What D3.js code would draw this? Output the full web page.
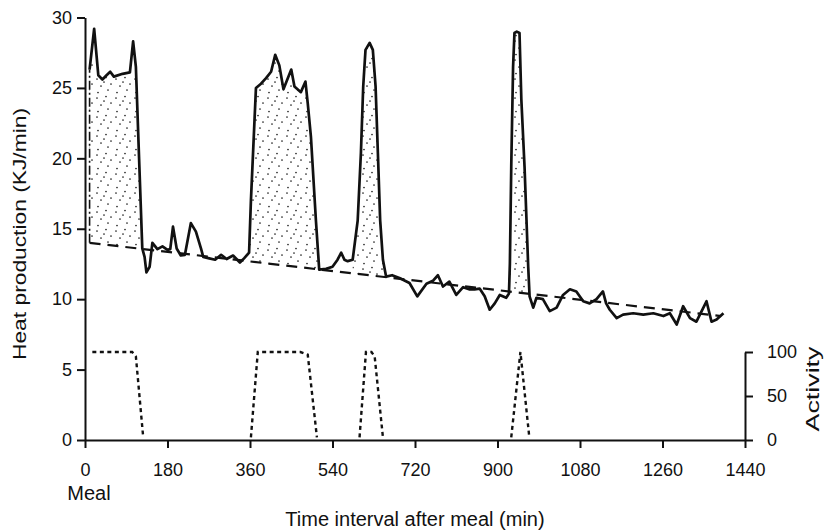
<!DOCTYPE html>
<html>
<head>
<meta charset="utf-8">
<script src="https://cdn.jsdelivr.net/npm/d3@7"></script>
<style>
  body { margin: 0; background: #fff; }
  svg text { font-family: "Liberation Sans", Arial, sans-serif; fill: #111; }
</style>
</head>
<body>
<div id="chart"></div>
<script>
// heat production trace (min after meal, KJ/min)
var heatTime = [10, 20, 29, 38, 47, 55, 63, 82, 98, 105, 111, 118, 125, 130, 134, 141, 147, 158, 169, 180, 186,
  192, 200, 209, 218, 231, 242, 253, 258, 271, 284, 297, 309, 323, 338, 347, 358, 362, 373, 384, 395, 406,
  415, 424, 433, 450, 457, 471, 481, 486, 493, 504, 511, 526, 540, 551, 559, 566, 573, 584, 595, 602, 607,
  612, 621, 628, 634, 639, 644, 650, 657, 670, 686, 708, 725, 745, 759, 770, 781, 795, 810, 825, 838, 850,
  861, 872, 883, 894, 905, 919, 925, 927, 930, 934, 937, 942, 948, 952, 959, 967, 970, 978, 985, 999, 1014,
  1029, 1043, 1058, 1072, 1087, 1101, 1116, 1130, 1137, 1145, 1160, 1174, 1196, 1218, 1240, 1262, 1276,
  1291, 1305, 1320, 1334, 1356, 1367, 1378, 1393];
var heatValue = [26.3, 29.2, 25.9, 25.6, 25.9, 26.15, 25.8, 26.0, 26.1, 28.3, 26.5, 20.0, 13.6, 13.0, 11.9, 12.3,
  14.0, 13.55, 13.75, 13.5, 13.55, 15.15, 13.6, 13.1, 13.15, 15.4, 14.8, 13.6, 13.0, 12.9, 12.8, 13.15, 12.85,
  13.1, 12.6, 12.9, 13.3, 17.0, 25.0, 25.3, 25.7, 26.15, 27.35, 26.6, 24.9, 26.3, 25.1, 24.7, 25.45, 23.9,
  21.5, 15.5, 12.1, 12.15, 12.3, 12.8, 13.3, 12.8, 12.7, 12.8, 15.6, 20.4, 25.1, 27.7, 28.2, 27.7, 25.1, 20.4,
  15.6, 12.8, 11.6, 11.7, 11.5, 11.15, 10.2, 11.1, 11.3, 11.7, 10.9, 11.25, 10.3, 10.85, 10.7, 10.7, 10.75,
  10.2, 9.25, 9.7, 10.3, 10.1, 10.4, 12.5, 19.4, 26.5, 28.9, 29.0, 28.9, 24.2, 19.4, 12.3, 10.2, 9.4, 10.1,
  10.0, 9.15, 9.4, 10.3, 10.7, 10.55, 9.85, 9.7, 10.0, 10.55, 9.7, 9.25, 8.65, 8.9, 9.0, 8.9, 9.0, 8.8, 9.0,
  8.2, 9.5, 8.65, 8.4, 9.85, 8.4, 8.55, 9.0];

// activity trace (0-100)
var actTime = [16, 103, 111, 127, 362, 377, 470, 486, 506, 599, 613, 625, 632, 650, 930, 950, 969];
var actValue = [100, 100, 95, 3, 3, 100, 100, 97, 3, 3, 100, 100, 95, 3, 3, 100, 5];

// resting baseline (dashed)
var baseTime = [10, 1388];
var baseHeat = [14.0, 8.8];

// shaded intervals (thermic effect of activity)
var shadeFrom = [10, 358, 584, 925];
var shadeTo = [125, 511, 657, 970];

var xTicks = [0, 180, 360, 540, 720, 900, 1080, 1260, 1440];
var yTicks = [0, 5, 10, 15, 20, 25, 30];
var actTicks = [0, 50, 100];

var width = 826, height = 532;

var svg = d3.select("#chart").append("svg")
    .attr("width", width)
    .attr("height", height);

var x = d3.scaleLinear().domain([0, 1440]).range([85, 745]);
var y = d3.scaleLinear().domain([0, 30]).range([440, 17.5]);
var act = d3.scaleLinear().domain([0, 100]).range([440, 352]);
var base = d3.scaleLinear().domain(baseTime).range(baseHeat);

// stipple pattern for shaded area
var defs = svg.append("defs");
var pat = defs.append("pattern")
    .attr("id", "stipple")
    .attr("patternUnits", "userSpaceOnUse")
    .attr("width", 19).attr("height", 19);
[[2, 3], [11, 1.5], [16, 8], [6, 10], [13, 14], [3, 16.5], [9, 6]].forEach(function(p) {
  pat.append("circle").attr("cx", p[0]).attr("cy", p[1]).attr("r", 0.85).attr("fill", "#222");
});

var heat = heatTime.map(function(t, i) { return { t: t, v: heatValue[i] }; });

var area = d3.area()
    .x(function(d) { return x(d.t); })
    .y0(function(d) { return y(base(d.t)); })
    .y1(function(d) { return y(d.v); });

shadeFrom.forEach(function(a, i) {
  var seg = heat.filter(function(d) { return d.t >= a && d.t <= shadeTo[i]; });
  svg.append("path")
      .attr("d", area(seg))
      .attr("fill", "url(#stipple)");
});

// dashed left edge of first shaded block
svg.append("line")
    .attr("x1", x(heatTime[0])).attr("x2", x(heatTime[0]))
    .attr("y1", y(base(heatTime[0]))).attr("y2", y(heatValue[0]))
    .attr("stroke", "#111").attr("stroke-width", 1.6)
    .attr("stroke-dasharray", "9,3,2,3");

// baseline
svg.append("line")
    .attr("x1", x(baseTime[0])).attr("x2", x(baseTime[1]))
    .attr("y1", y(baseHeat[0])).attr("y2", y(baseHeat[1]))
    .attr("stroke", "#111").attr("stroke-width", 2.2)
    .attr("stroke-dasharray", "11,7");

// heat line
var line = d3.line()
    .x(function(d) { return x(d.t); })
    .y(function(d) { return y(d.v); });

svg.append("path")
    .datum(heat)
    .attr("d", line)
    .attr("fill", "none")
    .attr("stroke", "#111")
    .attr("stroke-width", 2.7)
    .attr("stroke-linejoin", "round");

// activity line: one dotted path per bout (the resting stretches sit on the axis)
var bouts = [];
actValue.forEach(function(v, i) {
  if (i === 0 || (actValue[i - 1] <= 5 && v <= 5)) bouts.push([]);
  bouts[bouts.length - 1].push({ t: actTime[i], a: v });
});

var actLine = d3.line()
    .x(function(d) { return x(d.t); })
    .y(function(d) { return act(d.a); });

svg.selectAll(".bout")
    .data(bouts.filter(function(b) { return b.length > 1; }))
    .enter().append("path")
    .attr("class", "bout")
    .attr("d", actLine)
    .attr("fill", "none")
    .attr("stroke", "#111")
    .attr("stroke-width", 2.4)
    .attr("stroke-dasharray", "4,3.5");

// axes
var gx = svg.append("g")
    .attr("transform", "translate(0," + y(0) + ")")
    .call(d3.axisBottom(x).tickValues(xTicks).tickFormat(d3.format("d"))
        .tickSize(8).tickSizeOuter(0).tickPadding(15));

var gy = svg.append("g")
    .attr("transform", "translate(" + x(0) + ",0)")
    .call(d3.axisLeft(y).tickValues(yTicks).tickSize(8).tickSizeOuter(0).tickPadding(5));

var ga = svg.append("g")
    .attr("transform", "translate(" + x(1440) + ",0)")
    .call(d3.axisRight(act).tickValues(actTicks).tickSize(8).tickSizeOuter(0).tickPadding(14));

[gx, gy, ga].forEach(function(g) {
  g.selectAll("path, line").attr("stroke", "#111").attr("stroke-width", 2);
  g.selectAll("text").attr("font-size", 18).attr("fill", "#111")
      .style("font-family", "'Liberation Sans', Arial, sans-serif");
});

// labels
svg.append("text")
    .attr("x", x(0) + 4).attr("y", 500)
    .attr("text-anchor", "middle")
    .attr("font-size", 20)
    .text("Meal");

svg.append("text")
    .attr("x", 415).attr("y", 526)
    .attr("text-anchor", "middle")
    .attr("font-size", 20)
    .text("Time interval after meal (min)");

svg.append("text")
    .attr("transform", "translate(26,234) rotate(-90)")
    .attr("text-anchor", "middle")
    .attr("font-size", 18)
    .attr("textLength", 252)
    .attr("lengthAdjust", "spacingAndGlyphs")
    .text("Heat production (KJ/min)");

svg.append("text")
    .attr("transform", "translate(819,389) rotate(-90)")
    .attr("text-anchor", "middle")
    .attr("font-size", 18)
    .attr("textLength", 85)
    .attr("lengthAdjust", "spacingAndGlyphs")
    .text("Activity");
</script>
</body>
</html>
